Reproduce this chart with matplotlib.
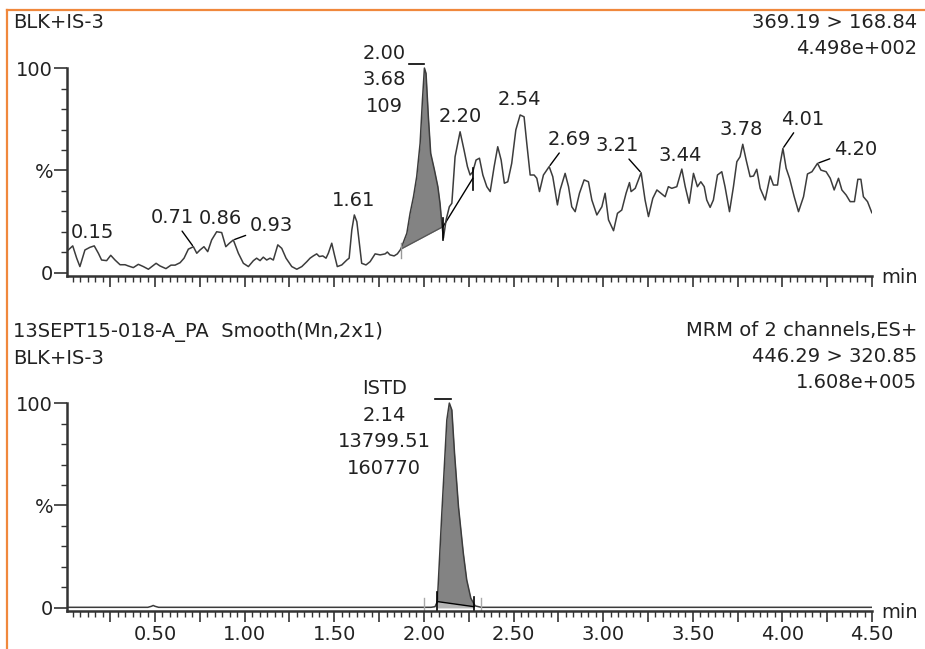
import matplotlib.pyplot as plt
import numpy as np

# channel 369.19 > 168.84, relative intensity (%) vs retention time (min)
rt_top = [0.016, 0.041, 0.063, 0.081, 0.109, 0.137, 0.161, 0.184, 0.202, 0.23,
          0.253, 0.277, 0.305, 0.333, 0.351, 0.379, 0.407, 0.435, 0.463, 0.482,
          0.506, 0.528, 0.561, 0.589, 0.612, 0.64, 0.662, 0.686, 0.714, 0.733,
          0.751, 0.773, 0.794, 0.816, 0.844, 0.872, 0.895, 0.915, 0.937, 0.965,
          0.993, 1.021, 1.049, 1.067, 1.086, 1.104, 1.123, 1.142, 1.16, 1.185,
          1.207, 1.231, 1.263, 1.291, 1.319, 1.347, 1.365, 1.383, 1.402, 1.417,
          1.436, 1.454, 1.467, 1.486, 1.501, 1.517, 1.542, 1.57, 1.583, 1.598,
          1.612, 1.626, 1.638, 1.653, 1.677, 1.7, 1.728, 1.756, 1.784, 1.796,
          1.811, 1.834, 1.852, 1.871, 1.905, 1.923, 1.942, 1.96, 1.979, 1.992,
          2.003, 2.012, 2.025, 2.038, 2.059, 2.078, 2.09, 2.1, 2.109, 2.124,
          2.142, 2.156, 2.174, 2.202, 2.224, 2.243, 2.258, 2.273, 2.291, 2.31,
          2.329, 2.351, 2.37, 2.392, 2.412, 2.431, 2.449, 2.468, 2.49, 2.513,
          2.537, 2.559, 2.574, 2.593, 2.615, 2.63, 2.645, 2.667, 2.699, 2.719,
          2.745, 2.76, 2.788, 2.807, 2.825, 2.844, 2.868, 2.894, 2.918, 2.937,
          2.965, 2.993, 3.011, 3.03, 3.058, 3.08, 3.104, 3.128, 3.147, 3.156,
          3.179, 3.212, 3.234, 3.253, 3.277, 3.3, 3.322, 3.346, 3.364, 3.383,
          3.411, 3.439, 3.458, 3.48, 3.504, 3.526, 3.545, 3.564, 3.578, 3.597,
          3.615, 3.638, 3.662, 3.68, 3.705, 3.727, 3.746, 3.764, 3.779, 3.798,
          3.82, 3.839, 3.857, 3.876, 3.904, 3.932, 3.95, 3.973, 3.988, 4.003,
          4.021, 4.04, 4.066, 4.09, 4.118, 4.14, 4.165, 4.196, 4.215, 4.244,
          4.267, 4.289, 4.313, 4.332, 4.356, 4.378, 4.402, 4.421, 4.438, 4.452,
          4.475, 4.499]
int_top = [11.2, 13.2, 7.2, 3.1, 11.2, 12.5, 13.2, 9.6, 6.3, 6.0,
           8.6, 6.3, 4.0, 4.0, 3.4, 2.6, 4.2, 3.1, 1.8, 3.1,
           4.7, 3.4, 2.1, 3.8, 3.8, 5.0, 7.2, 11.6, 12.8, 9.6,
           11.2, 12.8, 10.4, 16.1, 20.1, 19.7, 12.8, 14.5, 16.1, 9.6,
           4.7, 3.1, 6.0, 7.2, 6.0, 7.7, 6.3, 7.2, 6.3, 13.7,
           12.0, 7.2, 3.1, 1.8, 3.1, 5.5, 7.2, 8.3, 9.3, 8.0,
           8.3, 7.2, 9.6, 14.5, 8.8, 3.1, 3.9, 6.3, 7.2, 21.0,
           28.3, 25.0, 16.1, 4.7, 3.9, 5.5, 9.3, 8.8, 9.3, 10.2,
           8.8, 8.3, 9.3, 11.6, 19.4, 29.1, 37.2, 47.0, 63.3, 84.4,
           100.0, 97.4, 76.2, 58.4, 50.2, 42.1, 34.0, 24.2, 17.0, 25.9,
           32.3, 34.0, 56.7, 68.9, 60.0, 51.9, 47.8, 49.4, 55.1, 56.0,
           47.8, 42.1, 39.7, 51.9, 61.6, 55.1, 43.8, 44.5, 53.5, 69.8,
           77.1, 76.2, 63.3, 47.8, 47.8, 46.2, 39.7, 47.8, 51.9, 47.0,
           33.2, 40.5, 48.6, 42.1, 32.3, 29.9, 38.9, 45.4, 44.5, 35.6,
           28.3, 32.3, 38.9, 25.9, 20.6, 29.1, 30.7, 38.9, 44.1, 39.7,
           41.3, 48.9, 35.6, 27.5, 36.4, 40.5, 38.9, 37.2, 42.1, 41.3,
           42.1, 50.7, 42.1, 34.0, 48.6, 42.1, 44.5, 42.1, 35.6, 32.0,
           35.6, 47.8, 49.4, 42.1, 29.9, 42.1, 54.3, 56.7, 62.8, 55.1,
           47.0, 47.3, 50.6, 41.3, 35.6, 47.3, 42.9, 42.9, 53.5, 60.8,
           51.1, 46.2, 37.2, 29.9, 37.2, 48.3, 49.4, 53.5, 50.2, 49.4,
           46.2, 40.5, 46.2, 40.5, 38.0, 34.8, 34.8, 45.7, 45.7, 37.2,
           34.8, 29.4]

# channel 446.29 > 320.85 (ISTD)
rt_istd = [0.01, 0.46, 0.48, 0.49, 0.50, 0.52, 2.04, 2.062, 2.075, 2.1, 2.128,
           2.142, 2.156, 2.171, 2.193, 2.22, 2.239, 2.262, 2.286, 2.32, 4.5]
int_istd = [0.3, 0.3, 0.8, 1.2, 0.8, 0.3, 0.3, 0.6, 3.0, 46.0, 91.7,
            100.0, 96.6, 75.5, 49.4, 26.7, 13.7, 4.7, 1.0, 0.3, 0.3]

# peak labels, top trace
lab_top = ['0.15', '0.71', '0.86', '0.93', '1.61', '2.20', '2.54', '2.69',
           '3.21', '3.44', '3.78', '4.01', '4.20']
lab_t = [0.15, 0.714, 0.858, 0.937, 1.612, 2.202, 2.537, 2.699,
         3.212, 3.439, 3.779, 4.003, 4.196]
lab_v = [13.0, 12.8, 20.3, 16.1, 28.3, 68.9, 77.1, 51.9,
         48.9, 50.7, 62.8, 60.8, 53.5]
lab_off = [(0, 14), (-21, 29), (1, 13), (38, 14), (-1, 14), (0, 15), (-1, 15),
           (20, 27), (-24, 27), (-2, 14), (-2, 15), (20, 29), (38, 14)]
lab_lead = [False, True, False, True, False, False, False, True,
            True, False, False, True, True]

# integrated peaks
info_top = ['2.00', '3.68', '109']
peak_top = (2.003, 100.0)
info_istd = ['ISTD', '2.14', '13799.51', '160770']
peak_istd = (2.142, 100.0)
base_top = ([1.871, 2.107], [11.6, 22.6])
base_top2 = ([2.107, 2.273], [22.6, 46.2])
base_istd = ([2.075, 2.28], [3.1, 0.6])

txt = '#222222'
line_c = '#3c3c3c'
ax_c = '#333333'
fs = 14

fig = plt.figure(figsize=(9.25, 6.49), dpi=100)
W, H = 925.0, 649.0

ax1 = fig.add_axes([67 / W, 1 - 276 / H, 805 / W, 219 / H])
ax2 = fig.add_axes([67 / W, 1 - 611 / H, 805 / W, 219 / H])


def style(ax, xlabels):
    ax.set_xlim(0.009, 4.5)
    ax.set_ylim(-1.5, 105.4)
    ax.spines['top'].set_visible(False)
    ax.spines['right'].set_visible(False)
    ax.spines['left'].set_bounds(-1.5, 100)
    for s in ['left', 'bottom']:
        ax.spines[s].set_linewidth(1.8)
        ax.spines[s].set_color(ax_c)
    ax.set_yticks([0, 50, 100])
    ax.set_yticklabels(['0', '%', '100'])
    ax.set_yticks(np.arange(10, 100, 10), minor=True)
    maj = np.arange(0.25, 4.51, 0.25)
    ax.set_xticks(maj)
    if xlabels:
        ax.set_xticklabels(['%.2f' % m if abs(m * 2 - round(m * 2)) < 1e-6 else '' for m in maj])
    else:
        ax.set_xticklabels([])
    ax.set_xticks(np.arange(0.25 / 6, 4.5, 0.25 / 6), minor=True)
    ax.tick_params(axis='x', which='major', length=8, width=1.2, color=ax_c,
                   labelsize=fs, labelcolor=txt, pad=2)
    ax.tick_params(axis='x', which='minor', length=4, width=1.0, color=ax_c)
    ax.tick_params(axis='y', which='major', length=9.5, width=1.2, color=ax_c,
                   labelsize=fs, labelcolor=txt, pad=0.5)
    ax.tick_params(axis='y', which='minor', length=4.5, width=1.0, color=ax_c)


style(ax1, False)
style(ax2, True)

# top trace
t1 = np.array(rt_top)
y1 = np.array(int_top)
bl = np.interp(t1, base_top[0], base_top[1], left=np.nan, right=np.nan)
m = ~np.isnan(bl)
ax1.fill_between(t1[m], y1[m], bl[m], where=y1[m] >= bl[m], interpolate=True,
                 color='#838383', lw=0)
ax1.plot(base_top[0], base_top[1], color='#555555', lw=0.9)
ax1.plot(base_top2[0], base_top2[1], color='black', lw=1.0)
ax1.plot(t1, y1, color=line_c, lw=1.1)
# integration marks
ax1.plot([1.871, 1.871], [7.3, 14.6], color='#999999', lw=1)
ax1.plot([2.107, 2.107], [16, 27], color='black', lw=1.2)
ax1.plot([2.273, 2.273], [40.5, 51.2], color='black', lw=1.2)
ax1.plot([peak_top[0] - 0.085, peak_top[0]], [peak_top[1] + 2] * 2, color='black', lw=1.2)

for s, t, v, off, lead in zip(lab_top, lab_t, lab_v, lab_off, lab_lead):
    if lead:
        ax1.annotate(s, xy=(t, v), xytext=off, textcoords='offset pixels',
                     ha='center', va='center', fontsize=fs, color=txt,
                     annotation_clip=False,
                     arrowprops=dict(arrowstyle='-', color='black', lw=1.0,
                                     shrinkA=1, shrinkB=1))
    else:
        ax1.annotate(s, xy=(t, v), xytext=off, textcoords='offset pixels',
                     ha='center', va='center', fontsize=fs, color=txt,
                     annotation_clip=False)

for i, s in enumerate(info_top):
    ax1.annotate(s, xy=peak_top, xytext=(-40, 14.6 - 26.3 * i), textcoords='offset pixels',
                 ha='center', va='center', fontsize=fs, color=txt, annotation_clip=False)

# ISTD trace
t2 = np.array(rt_istd)
y2 = np.array(int_istd)
bl2 = np.interp(t2, base_istd[0], base_istd[1], left=np.nan, right=np.nan)
m2 = ~np.isnan(bl2)
tt = np.concatenate([[base_istd[0][0]], t2[m2], [base_istd[0][1]]])
yy = np.interp(tt, t2, y2)
bb = np.interp(tt, base_istd[0], base_istd[1])
ax2.fill_between(tt, yy, bb, color='#838383', lw=0)
ax2.fill_between(tt, bb, 0, color='#b5b5b5', lw=0)
ax2.plot(base_istd[0], base_istd[1], color='black', lw=1.0)
ax2.plot(t2, y2, color=line_c, lw=1.1)
ax2.plot([2.075, 2.075], [-1.5, 8], color='black', lw=1.2)
ax2.plot([2.28, 2.28], [-1.5, 5.5], color='black', lw=1.2)
ax2.plot([2.0, 2.0], [-1.5, 5], color='#aaaaaa', lw=1)
ax2.plot([2.32, 2.32], [-1.5, 5], color='#aaaaaa', lw=1)
ax2.plot([peak_istd[0] - 0.08, peak_istd[0] + 0.007], [peak_istd[1] + 2] * 2, color='black', lw=1.2)

for i, s in enumerate(info_istd):
    ax2.annotate(s, xy=peak_istd, xytext=(-65, 14.3 - 26.5 * i), textcoords='offset pixels',
                 ha='center', va='center', fontsize=fs, color=txt, annotation_clip=False)

# header texts
def ftext(px, py, s, ha='left'):
    fig.text(px / W, 1 - py / H, s, ha=ha, va='center', fontsize=fs, color=txt)


ftext(13, 22.5, 'BLK+IS-3')
ftext(917, 22, '369.19 > 168.84', ha='right')
ftext(917, 48, '4.498e+002', ha='right')
ftext(13, 332, '13SEPT15-018-A_PA  Smooth(Mn,2x1)')
ftext(13, 358, 'BLK+IS-3')
ftext(917, 331, 'MRM of 2 channels,ES+', ha='right')
ftext(917, 357, '446.29 > 320.85', ha='right')
ftext(917, 383, '1.608e+005', ha='right')
ftext(881, 277, 'min')
ftext(881, 612, 'min')

# orange frame
fig.add_artist(plt.Line2D([7 / W, 7 / W], [0, 1 - 10 / H], color='#f0883c', lw=1.6))
fig.add_artist(plt.Line2D([7 / W, 1], [1 - 10 / H, 1 - 10 / H], color='#f0883c', lw=1.6))

fig.savefig('out.png', dpi=100)
